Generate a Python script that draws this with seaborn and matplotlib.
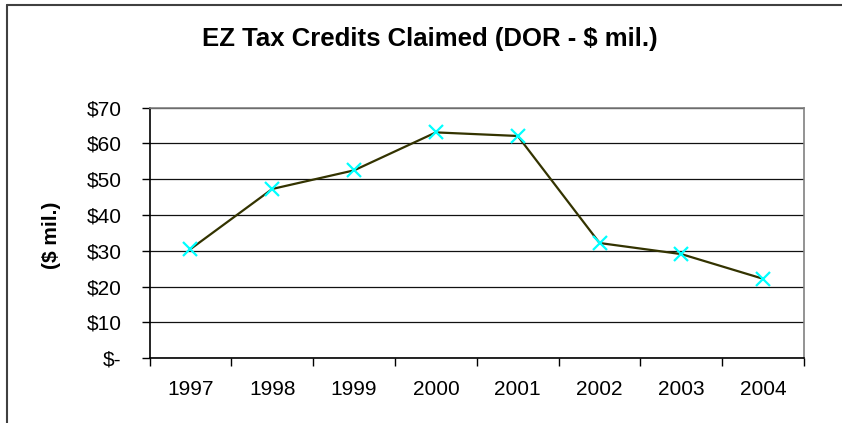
import matplotlib
matplotlib.use("Agg")
import matplotlib.pyplot as plt
from matplotlib.ticker import FixedLocator, FuncFormatter
from matplotlib.lines import Line2D
import pandas as pd
import seaborn as sns

# data
years = ["1997", "1998", "1999", "2000", "2001", "2002", "2003", "2004"]
credits = [30.5, 47.3, 52.5, 63.1, 62.1, 32.2, 29.1, 22.2]
y_ticks = [0, 10, 20, 30, 40, 50, 60, 70]

df = pd.DataFrame({"year": years, "credits": credits})

sns.set_style("white")
plt.rcParams["font.family"] = ["Liberation Sans", "DejaVu Sans"]
plt.rcParams["text.color"] = "black"

fig = plt.figure(figsize=(8.42, 4.23), dpi=100)
ax = fig.add_axes([0.1776, 0.153, 0.955 - 0.1776, 0.7454 - 0.153])

sns.lineplot(data=df, x="year", y="credits", ax=ax, color="#333300",
             linewidth=1.6, marker="x", markersize=10, markeredgewidth=1.6,
             markeredgecolor="#00FFFF", sort=False)

ax.set_xlim(-0.5, len(years) - 0.5)
ax.set_ylim(0, 70)
ax.yaxis.set_major_locator(FixedLocator(y_ticks))
ax.yaxis.set_major_formatter(FuncFormatter(lambda v, p: "$-" if v == 0 else f"${v:.0f}"))
ax.grid(axis="y", color="#111111", linewidth=0.9)
ax.grid(axis="x", visible=False)

# category labels without ticks, boundary tick marks between categories
ax.set_xticks([i - 0.5 for i in range(len(years) + 1)], minor=True)
ax.tick_params(axis="x", which="major", bottom=True, length=0, labelsize=15,
               pad=15.5, labelcolor="black")
ax.tick_params(axis="x", which="minor", bottom=True, length=6, width=1,
               color="black", direction="out")
ax.tick_params(axis="y", left=True, length=6, width=1, color="black",
               direction="out", labelsize=15, pad=14, labelcolor="black")

for side in ["left", "bottom"]:
    ax.spines[side].set_color("black")
    ax.spines[side].set_linewidth(1.2)
for side in ["top", "right"]:
    ax.spines[side].set_color("#808080")
    ax.spines[side].set_linewidth(1.2)

ax.set_xlabel("")
ax.set_ylabel("($ mil.)", fontsize=15, fontweight="bold", color="black")
ax.yaxis.set_label_coords(-0.135, 0.49)

fig.text(0.51, 1 - 46 / 423, "EZ Tax Credits Claimed (DOR - $ mil.)", ha="center",
         va="baseline", fontsize=18.5, fontweight="bold", color="black")

# outer chart border (top and left edges visible)
fig.add_artist(Line2D([0.008, 1.0], [0.988, 0.988], transform=fig.transFigure,
                      color="#404040", linewidth=1.5))
fig.add_artist(Line2D([0.008, 0.008], [0.0, 0.988], transform=fig.transFigure,
                      color="#404040", linewidth=1.5))

fig.savefig("out.png", dpi=100)
